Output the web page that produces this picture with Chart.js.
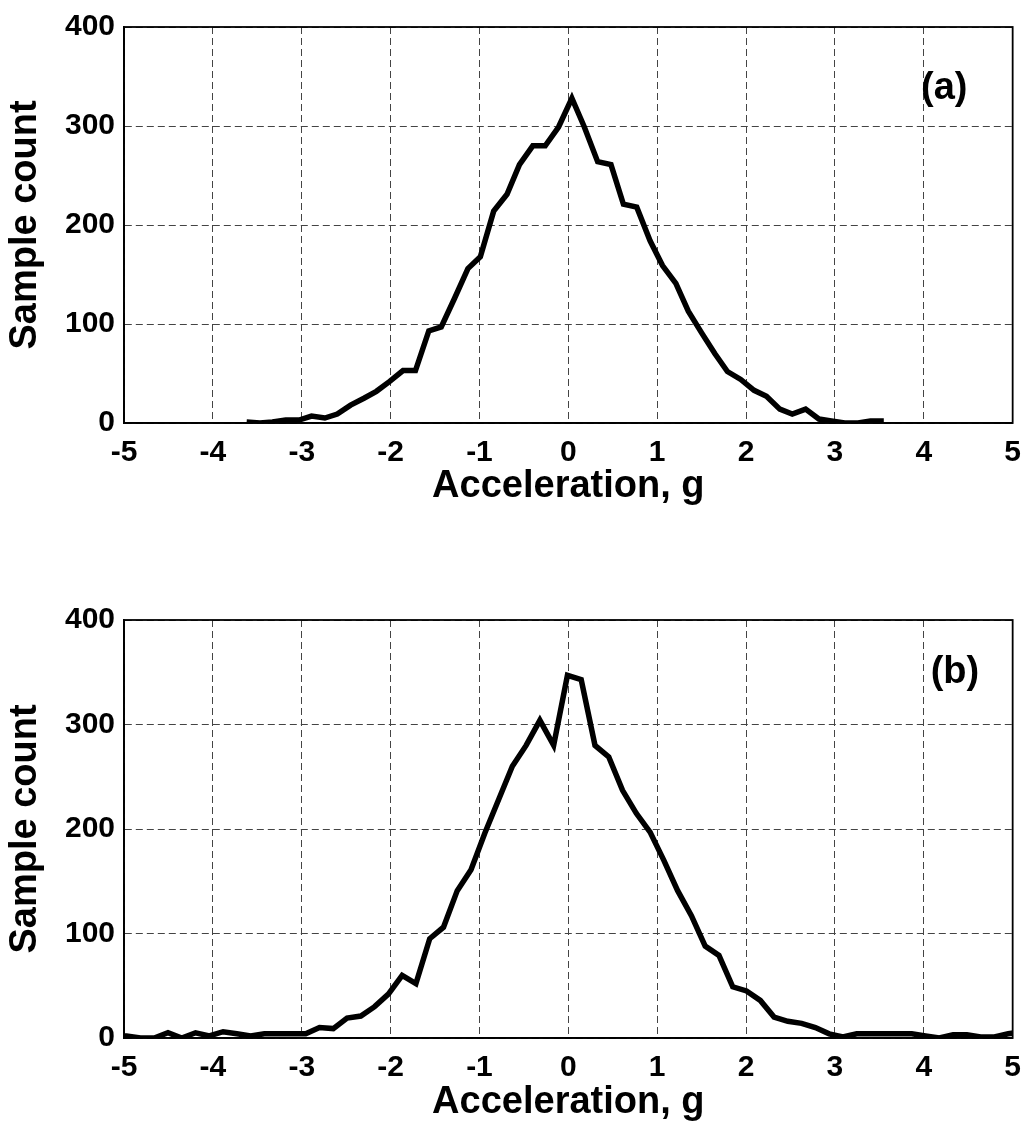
<!DOCTYPE html>
<html lang="en">
<head>
  <meta charset="UTF-8">
  <title>Acceleration histograms</title>
  <script src="https://cdn.jsdelivr.net/npm/chart.js"></script>
  <style>
    html, body { margin: 0; padding: 0; background: #fff; }
    body { width: 1033px; height: 1126px; position: relative; overflow: hidden; }
    .panel { position: absolute; left: 0; }
    #panelA { top: 0; }
    #panelB { top: 560px; }
  </style>
</head>
<body>
  <div class="panel" id="panelA"><canvas id="chartA" width="1033" height="560"></canvas></div>
  <div class="panel" id="panelB"><canvas id="chartB" width="1033" height="566"></canvas></div>

  <script>
    // axis ticks
    const xTicks = [-5, -4, -3, -2, -1, 0, 1, 2, 3, 4, 5];
    const yTicks = [0, 100, 200, 300, 400];

    // panel (a): bin centres (g) and counts
    const accelA = [-3.62, -3.47, -3.33, -3.18, -3.03, -2.89, -2.74, -2.60, -2.45, -2.30,
                    -2.16, -2.01, -1.86, -1.72, -1.57, -1.43, -1.28, -1.13, -0.99, -0.84,
                    -0.69, -0.55, -0.40, -0.26, -0.11, 0.04, 0.18, 0.33, 0.48, 0.62,
                    0.77, 0.92, 1.06, 1.21, 1.35, 1.50, 1.65, 1.79, 1.94, 2.09,
                    2.23, 2.38, 2.52, 2.67, 2.82, 2.96, 3.11, 3.26, 3.40, 3.55];
    const countA = [1, 0, 1, 3, 3, 7, 5, 9, 18, 25,
                    32, 42, 53, 53, 93, 97, 126, 156, 168, 214,
                    231, 261, 280, 280, 299, 328, 299, 264, 261, 221,
                    218, 184, 159, 141, 113, 91, 70, 52, 44, 33,
                    27, 14, 9, 14, 4, 2, 0, 0, 2, 2];

    // panel (b): bin centres (g) and counts
    const accelB = [-5.125, -4.97, -4.815, -4.66, -4.505, -4.35, -4.195, -4.04, -3.885, -3.73,
                    -3.575, -3.42, -3.265, -3.11, -2.955, -2.80, -2.645, -2.49, -2.335, -2.18,
                    -2.025, -1.87, -1.715, -1.56, -1.405, -1.25, -1.095, -0.94, -0.785, -0.63,
                    -0.475, -0.32, -0.165, -0.01, 0.145, 0.30, 0.455, 0.61, 0.765, 0.92,
                    1.075, 1.23, 1.385, 1.54, 1.695, 1.85, 2.005, 2.16, 2.315, 2.47,
                    2.625, 2.78, 2.935, 3.09, 3.245, 3.40, 3.555, 3.71, 3.865, 4.02,
                    4.175, 4.33, 4.485, 4.64, 4.795, 4.95, 5.105];
    const countB = [1, 2, 0, 0, 5, 0, 5, 2, 6, 4,
                    2, 4, 4, 4, 4, 10, 9, 19, 21, 30,
                    42, 60, 52, 95, 106, 141, 161, 196, 228, 260,
                    280, 304, 280, 347, 343, 280, 269, 237, 215, 197,
                    170, 141, 117, 88, 79, 49, 45, 36, 20, 16,
                    14, 10, 4, 1, 4, 4, 4, 4, 4, 2,
                    0, 3, 3, 1, 1, 4, 6];

    const FONT = "'Liberation Sans', Arial, Helvetica, sans-serif";

    // solid box round the plot and the panel letter
    const framePlugin = {
      id: 'frame',
      afterDraw(chart, args, opts) {
        const {ctx, chartArea: a, scales} = chart;
        ctx.save();
        ctx.setLineDash([]);
        ctx.strokeStyle = '#000';
        ctx.lineWidth = 1.8;
        ctx.strokeRect(a.left, a.top, a.right - a.left, a.bottom - a.top);
        ctx.fillStyle = '#000';
        ctx.font = 'bold 38px ' + FONT;
        ctx.textAlign = 'center';
        ctx.textBaseline = 'middle';
        ctx.fillText(opts.label, scales.x.getPixelForValue(opts.at[0]), scales.y.getPixelForValue(opts.at[1]));
        ctx.restore();
      }
    };

    function makeChart(id, xs, ys, label, labelAt, padTop, xAxisHeight, xTitlePad) {
      const pts = xs.map((x, i) => ({x: x, y: ys[i]}));
      return new Chart(document.getElementById(id), {
        type: 'line',
        data: {
          datasets: [{
            data: pts,
            borderColor: '#000',
            borderWidth: 5.5,
            pointRadius: 0,
            tension: 0,
            fill: false
          }]
        },
        options: {
          responsive: false,
          animation: false,
          events: [],
          layout: { padding: { top: padTop, right: 11, left: 0, bottom: 0 } },
          plugins: {
            legend: { display: false },
            tooltip: { enabled: false },
            frame: { label: label, at: labelAt }
          },
          scales: {
            x: {
              type: 'linear',
              min: -5, max: 5,
              afterBuildTicks: s => { s.ticks = xTicks.map(v => ({value: v})); },
              afterFit: s => { s.height = xAxisHeight; },
              grid: { color: '#444', lineWidth: 1, drawTicks: false },
              border: { display: true, color: '#000', width: 1.8, dash: [7, 4] },
              ticks: { color: '#000', padding: 12, maxRotation: 0, font: { family: FONT, size: 30, weight: 'bold' } },
              title: {
                display: true, text: 'Acceleration, g', color: '#000',
                font: { family: FONT, size: 38, weight: 'bold', lineHeight: 1 },
                padding: { top: 0, bottom: xTitlePad }
              }
            },
            y: {
              min: 0, max: 400,
              afterBuildTicks: s => { s.ticks = yTicks.map(v => ({value: v})); },
              afterFit: s => { s.width = 124; },
              grid: { color: '#444', lineWidth: 1, drawTicks: false },
              border: { display: true, color: '#000', width: 1.8, dash: [7, 4] },
              ticks: { color: '#000', padding: 9, font: { family: FONT, size: 30, weight: 'bold' } },
              title: {
                display: true, text: 'Sample count', color: '#000',
                font: { family: FONT, size: 38, weight: 'bold', lineHeight: 1 },
                padding: { top: 7, bottom: 0 }
              }
            }
          }
        },
        plugins: [framePlugin]
      });
    }

    const chartA = makeChart('chartA', accelA, countA, '(a)', [4.23, 338], 20, 137, 54);
    const chartB = makeChart('chartB', accelB, countB, '(b)', [4.35, 350], 60, 88, 4);
  </script>
</body>
</html>
